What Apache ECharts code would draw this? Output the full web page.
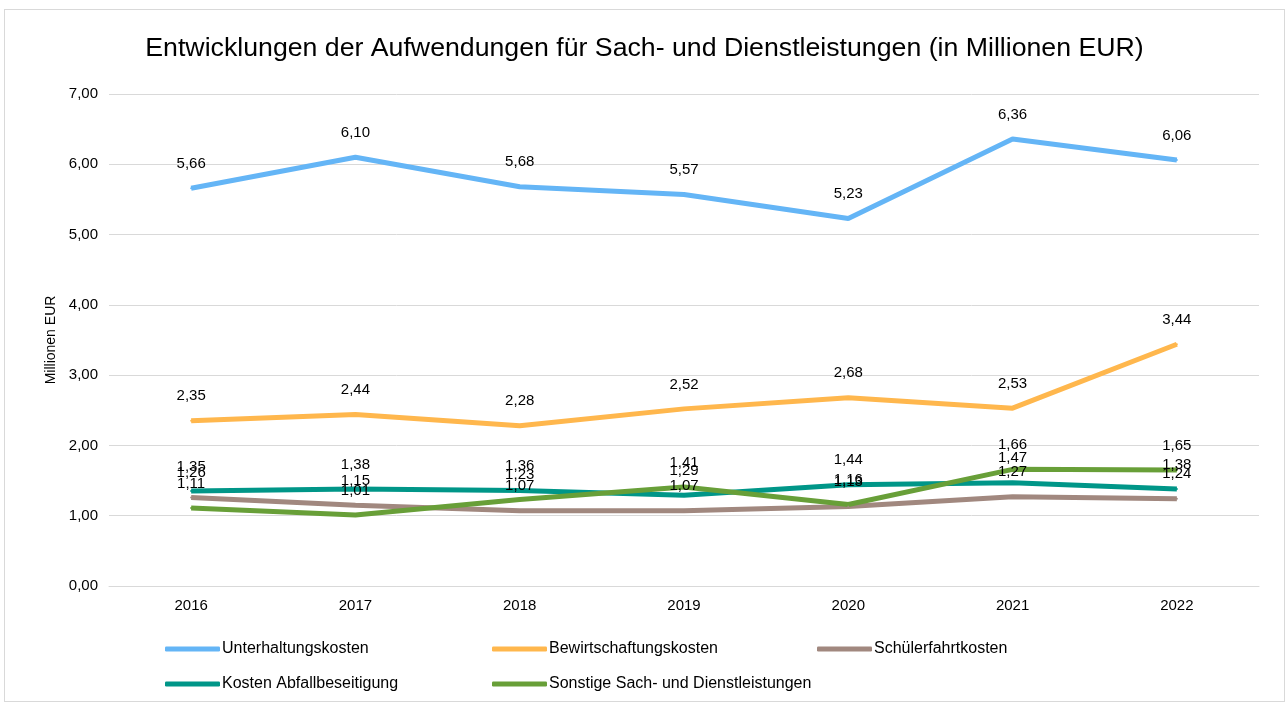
<!DOCTYPE html>
<html>
<head>
<meta charset="utf-8">
<script src="https://cdn.jsdelivr.net/npm/echarts@6/dist/echarts.min.js"></script>
<style>
    html, body { margin: 0; padding: 0; background: #fff; }
    #chart {
        position: absolute;
        left: 4px; top: 9px;
        width: 1281px; height: 693px;
        border: 1px solid #d9d9d9;
        box-sizing: border-box;
    }
</style>
</head>
<body>
<div id="chart"></div>
<script>
    // Jahre und Werte (Millionen EUR)
    const years = ['2016', '2017', '2018', '2019', '2020', '2021', '2022'];
    const unterhaltung = [5.66, 6.10, 5.68, 5.57, 5.23, 6.36, 6.06];
    const bewirtschaftung = [2.35, 2.44, 2.28, 2.52, 2.68, 2.53, 3.44];
    const schuelerfahrt = [1.26, 1.15, 1.07, 1.07, 1.13, 1.27, 1.24];
    const abfall = [1.35, 1.38, 1.36, 1.29, 1.44, 1.47, 1.38];
    const sonstige = [1.11, 1.01, 1.23, 1.41, 1.16, 1.66, 1.65];

    const seriesDefs = [
        { name: 'Unterhaltungskosten', data: unterhaltung, color: '#64b5f6' },
        { name: 'Bewirtschaftungskosten', data: bewirtschaftung, color: '#ffb74d' },
        { name: 'Schülerfahrtkosten', data: schuelerfahrt, color: '#a1887f' },
        { name: 'Kosten Abfallbeseitigung', data: abfall, color: '#009688' },
        { name: 'Sonstige Sach- und Dienstleistungen', data: sonstige, color: '#689f38' }
    ];

    const fmt = v => v.toFixed(2).replace('.', ',');
    const font = 'Liberation Sans, Arial, sans-serif';

    // Legendenpositionen (relativ zum Container)
    const legendPos = [
        [155, 626], [482, 626], [807, 626],
        [155, 661], [482, 661]
    ];

    const option = {
        textStyle: { fontFamily: font },
        title: {
            text: 'Entwicklungen der Aufwendungen für Sach- und Dienstleistungen (in Millionen EUR)',
            left: 'center',
            top: 20,
            textStyle: { fontSize: 26.7, fontWeight: 'normal', color: '#000', fontFamily: font }
        },
        legend: seriesDefs.map((s, i) => ({
            data: [s.name],
            left: legendPos[i][0],
            top: legendPos[i][1],
            itemWidth: 55,
            itemHeight: 5,
            itemGap: 5,
            icon: 'roundRect',
            textStyle: { fontSize: 16, color: '#000', fontFamily: font, padding: [0, 0, 0, -3] }
        })),
        grid: { left: 104, right: 25, top: 84, bottom: 115 },
        xAxis: {
            type: 'category',
            data: years,
            boundaryGap: true,
            axisLine: { lineStyle: { color: '#d9d9d9', width: 1 } },
            axisTick: { show: false },
            axisLabel: { fontSize: 15, color: '#000', margin: 12 }
        },
        yAxis: {
            type: 'value',
            min: 0,
            max: 7,
            interval: 1,
            name: 'Millionen EUR',
            nameLocation: 'middle',
            nameGap: 50,
            nameRotate: 90,
            nameTextStyle: { fontSize: 14, color: '#000' },
            axisLine: { show: false },
            axisTick: { show: false },
            axisLabel: { fontSize: 15, color: '#000', margin: 11, formatter: v => fmt(v) },
            splitLine: { lineStyle: { color: '#d9d9d9', width: 1 } }
        },
        series: seriesDefs.map(s => ({
            name: s.name,
            type: 'line',
            data: s.data,
            color: s.color,
            symbol: 'circle',
            symbolSize: 2,
            showSymbol: true,
            itemStyle: { color: s.color },
            lineStyle: { width: 5, color: s.color },
            label: {
                show: true,
                position: 'top',
                distance: 16,
                fontSize: 15,
                color: '#000',
                formatter: p => fmt(p.value)
            },
            labelLayout: { hideOverlap: false }
        }))
    };

    echarts.init(document.getElementById('chart')).setOption(option);
</script>
</body>
</html>
